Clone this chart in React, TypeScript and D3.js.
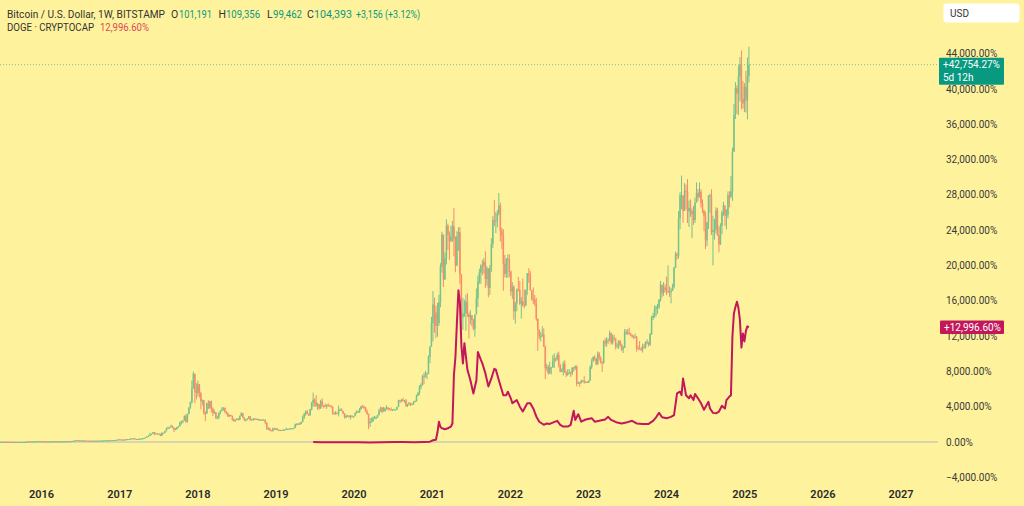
import React from "react";
import * as d3 from "d3";

// ---------- DATA ----------
// BTC weekly bars (week start from btcStart), values in $k: [close, high, low]
const btcStart = "2015-06-15";
const btcFirstOpen = 0.238;
const btcLastOpen = 101.191;

const btc2015 = [[0.2436,0.252,0.237],[0.249,0.251,0.240],[0.270,0.275,0.250],[0.310,0.310,0.263],[0.275,0.315,0.270],[0.290,0.292,0.273],[0.280,0.298,0.278],[0.265,0.285,0.258],[0.260,0.270,0.257],[0.230,0.262,0.200],[0.230,0.235,0.198],[0.240,0.245,0.225],[0.230,0.245,0.225],[0.230,0.237,0.225],[0.235,0.238,0.225],[0.240,0.243,0.233],[0.247,0.248,0.235],[0.265,0.267,0.244],[0.285,0.290,0.264],[0.325,0.335,0.283],[0.385,0.500,0.320],[0.330,0.390,0.300],[0.325,0.335,0.315],[0.360,0.370,0.320],[0.390,0.420,0.355],[0.435,0.465,0.390],[0.445,0.465,0.425],[0.420,0.460,0.420],[0.430,0.440,0.415]];
const btc2016 = [[0.450,0.460,0.425],[0.380,0.455,0.370],[0.400,0.420,0.365],[0.380,0.400,0.375],[0.375,0.380,0.365],[0.380,0.385,0.370],[0.410,0.420,0.380],[0.420,0.440,0.410],[0.430,0.440,0.410],[0.415,0.425,0.405],[0.410,0.420,0.405],[0.415,0.420,0.410],[0.415,0.425,0.410],[0.420,0.425,0.415],[0.425,0.430,0.420],[0.445,0.450,0.425],[0.460,0.470,0.440],[0.455,0.465,0.440],[0.460,0.465,0.450],[0.445,0.460,0.435],[0.530,0.535,0.440],[0.575,0.590,0.520],[0.680,0.690,0.570],[0.740,0.780,0.670],[0.660,0.770,0.550],[0.650,0.700,0.620],[0.660,0.680,0.600],[0.660,0.680,0.645],[0.660,0.680,0.640],[0.625,0.665,0.610],[0.590,0.625,0.480],[0.580,0.600,0.570],[0.580,0.590,0.565],[0.575,0.590,0.570],[0.605,0.610,0.570],[0.610,0.625,0.600],[0.600,0.615,0.600],[0.605,0.610,0.595],[0.610,0.615,0.600],[0.615,0.620,0.605],[0.640,0.645,0.615],[0.655,0.660,0.630],[0.700,0.720,0.650],[0.705,0.740,0.680],[0.705,0.740,0.690],[0.745,0.750,0.700],[0.730,0.750,0.725],[0.765,0.770,0.730],[0.770,0.780,0.755],[0.790,0.795,0.765],[0.890,0.900,0.790],[0.960,0.980,0.880]];
const btc2017 = [[0.910,1.130,0.890],[0.830,0.910,0.750],[0.920,0.925,0.820],[0.920,0.930,0.880],[1.020,1.040,0.915],[1.000,1.060,0.940],[1.050,1.060,0.990],[1.180,1.200,1.050],[1.250,1.290,1.170],[1.230,1.290,1.150],[0.960,1.260,0.950],[1.040,1.100,0.890],[1.080,1.100,0.960],[1.180,1.210,1.070],[1.180,1.210,1.160],[1.240,1.250,1.170],[1.350,1.360,1.230],[1.550,1.620,1.340],[1.750,1.850,1.540],[2.050,2.100,1.700],[2.200,2.800,1.950],[2.500,2.550,2.100],[2.950,3.000,2.450],[2.600,3.000,2.100],[2.600,2.800,2.450],[2.500,2.600,2.300],[2.500,2.650,2.400],[1.950,2.550,1.830],[2.750,2.950,1.900],[2.750,2.800,2.450],[3.250,3.300,2.700],[4.050,4.200,3.200],[4.150,4.500,3.950],[4.350,4.400,3.900],[4.700,5.000,4.300],[4.200,4.800,4.000],[3.700,4.250,2.950],[3.800,4.100,3.500],[4.350,4.400,3.650],[4.600,4.650,4.150],[5.650,5.850,4.550],[6.000,6.150,5.100],[6.150,6.200,5.400],[7.400,7.600,6.100],[5.900,7.850,5.500],[8.000,8.100,5.600],[9.800,9.800,7.900],[11.300,11.400,9.400],[15.000,17.200,10.800],[19.100,19.700,15.000],[14.000,19.000,11.000],[13.800,16.500,12.000]];
const btc2018 = [[16.200,17.200,12.800],[13.700,16.300,12.500],[11.500,14.100,9.300],[11.800,12.000,10.300],[8.200,11.700,7.800],[8.100,8.700,6.000],[11.000,11.100,8.000],[9.600,11.800,9.400],[11.500,11.600,9.400],[9.500,11.700,8.400],[8.200,9.800,7.400],[8.500,9.200,8.000],[6.900,8.500,6.600],[7.000,7.500,6.500],[8.300,8.400,6.600],[8.900,9.000,7.900],[9.200,9.800,8.700],[9.700,9.900,8.900],[8.700,9.700,8.300],[8.200,8.800,7.900],[7.300,8.400,7.200],[7.700,7.800,7.200],[7.500,7.800,7.300],[6.500,6.900,6.100],[6.100,6.800,5.800],[6.400,6.500,5.800],[6.700,6.800,6.300],[6.350,6.700,6.100],[7.400,7.600,6.300],[8.200,8.500,7.400],[7.000,8.200,6.900],[6.300,7.100,6.100],[6.400,6.500,5.900],[6.700,6.800,6.300],[7.300,7.400,6.600],[6.300,7.400,6.100],[6.500,6.600,6.200],[6.700,6.800,6.100],[6.600,6.800,6.400],[6.600,6.700,6.500],[6.300,6.700,6.200],[6.400,6.600,6.300],[6.400,6.500,6.300],[6.400,6.500,6.300],[6.400,6.550,6.350],[5.600,6.400,5.200],[4.000,5.600,3.600],[4.000,4.400,3.500],[3.500,4.200,3.400],[3.200,3.600,3.200],[3.900,4.200,3.200],[3.700,4.200,3.500],[4.000,4.100,3.700]];
const btc2019 = [[3.550,4.100,3.450],[3.550,3.700,3.500],[3.550,3.600,3.400],[3.450,3.550,3.350],[3.650,3.700,3.400],[3.650,3.700,3.550],[3.850,4.200,3.700],[3.850,3.900,3.700],[3.950,3.950,3.700],[4.000,4.050,3.850],[4.000,4.100,3.950],[4.100,4.150,3.950],[5.100,5.300,4.100],[5.100,5.450,4.900],[5.300,5.400,5.000],[5.200,5.650,5.000],[5.800,5.850,5.150],[7.000,7.500,5.700],[8.000,8.300,6.600],[8.700,8.900,7.500],[8.000,9.100,7.900],[7.600,8.100,7.450],[9.300,9.400,7.500],[11.000,11.300,8.950],[11.900,13.900,10.000],[11.300,12.300,10.000],[10.200,13.200,9.900],[10.700,11.100,9.100],[9.500,10.600,9.200],[11.500,11.900,9.400],[10.300,12.300,10.000],[10.200,10.500,9.500],[10.100,10.900,9.900],[10.500,10.600,9.400],[10.400,10.900,10.000],[10.300,10.500,10.000],[10.000,10.300,9.600],[8.200,10.000,7.800],[7.900,8.500,7.800],[8.300,8.800,7.800],[8.200,8.400,7.900],[9.200,10.300,7.300],[9.200,9.500,8.900],[8.800,9.500,8.700],[8.100,8.800,8.000],[7.100,8.200,6.700],[7.400,7.800,6.800],[7.500,7.700,7.200],[7.100,7.600,7.000],[7.500,7.700,6.500],[7.200,7.600,7.100],[7.350,7.400,6.900]];
const btc2020 = [[8.200,8.400,7.700],[8.700,9.000,8.100],[8.400,8.800,8.300],[9.350,9.600,8.300],[10.100,10.200,9.100],[9.900,10.500,9.700],[9.700,10.300,9.300],[8.550,9.900,8.500],[8.000,9.200,7.700],[5.400,8.100,3.800],[5.800,6.900,4.400],[5.900,6.950,5.700],[6.800,7.300,5.900],[6.900,7.450,6.700],[7.100,7.300,6.500],[7.700,7.800,6.900],[8.900,9.450,7.600],[8.700,10.000,8.600],[9.700,9.900,8.200],[8.700,9.900,8.600],[9.450,9.800,8.700],[9.700,10.400,9.200],[9.350,9.900,8.900],[9.300,9.600,9.150],[9.000,9.800,8.900],[9.100,9.300,8.900],[9.200,9.450,9.100],[9.200,9.250,9.050],[9.900,10.000,9.150],[11.800,11.900,9.900],[11.700,11.900,11.000],[11.900,12.100,11.200],[11.650,12.450,11.400],[11.700,11.800,11.100],[10.300,12.100,9.900],[10.700,10.800,9.900],[11.100,11.200,10.300],[10.700,10.900,10.200],[10.650,10.900,10.400],[11.300,11.500,10.500],[11.500,11.700,11.200],[13.000,13.300,11.400],[13.800,14.100,12.900],[15.500,15.900,13.300],[16.000,16.500,14.800],[18.400,18.800,15.800],[18.200,19.400,16.200],[19.000,19.900,18.000],[19.200,19.400,17.600],[23.800,24.200,19.000],[26.500,26.800,22.000],[33.000,34.800,27.300]];
const btc2021 = [[38.200,41.900,28.000],[36.000,40.100,30.400],[32.300,37.800,28.900],[33.100,38.600,29.300],[38.900,40.900,32.300],[48.600,49.600,37.400],[57.500,58.300,47.000],[45.100,57.500,43.000],[51.000,52.600,45.000],[59.900,61.700,49.300],[57.400,60.500,53.300],[55.800,58.400,50.500],[57.000,60.000,55.400],[59.800,61.300,55.500],[56.200,64.800,51.500],[49.000,57.000,47.100],[57.000,58.400,48.800],[58.200,59.500,53.000],[46.400,59.600,43.800],[34.600,46.600,30.000],[35.700,40.000,31.200],[35.800,39.500,34.800],[39.000,40.900,31.000],[35.500,41.300,34.800],[34.700,36.000,28.800],[35.300,36.600,32.700],[33.900,35.200,32.100],[31.500,34.200,31.100],[35.400,35.400,29.300],[39.900,42.600,36.400],[44.600,46.200,37.500],[47.000,48.100,43.900],[49.000,49.300,43.900],[48.900,50.500,46.300],[49.900,51.000,46.700],[45.200,52.900,42.800],[48.200,48.800,43.400],[42.800,47.000,40.200],[48.200,49.100,40.800],[54.900,56.500,47.200],[61.500,62.600,53.800],[61.300,67.000,59.800],[61.300,63.700,57.900],[63.300,64.300,59.500],[65.500,69.000,62.800],[58.600,66.300,55.600],[57.200,59.400,53.500],[49.400,59.000,42.000],[46.700,51.900,45.700],[50.800,51.000,45.600],[50.800,52.000,45.600],[47.300,52.100,45.700]];
const btc2022 = [[41.800,47.600,40.600],[43.100,44.400,39.700],[36.300,43.500,34.000],[38.500,38.900,32.900],[42.400,42.600,36.300],[42.200,45.800,41.800],[38.400,44.700,38.000],[39.100,40.300,34.300],[38.000,45.400,37.600],[37.800,42.400,37.200],[42.200,42.300,38.100],[46.800,46.900,40.900],[46.400,48.200,44.200],[42.200,47.500,42.000],[39.700,41.500,39.200],[39.500,42.900,38.300],[38.500,40.800,37.700],[34.300,40.000,33.700],[31.300,34.200,25.400],[29.400,31.300,28.600],[29.400,30.600,28.000],[29.900,32.200,29.300],[26.600,31.600,26.500],[20.600,26.900,17.600],[21.000,21.900,19.800],[19.300,21.500,18.800],[20.800,22.400,19.000],[20.800,21.000,18.900],[22.600,24.200,20.800],[23.300,24.700,20.700],[23.200,23.600,22.400],[24.300,24.900,22.700],[21.500,25.200,20.800],[19.550,21.800,19.600],[19.800,20.600,19.600],[21.800,22.500,18.600],[19.400,22.800,19.300],[18.800,19.900,18.200],[19.300,20.300,18.500],[19.400,20.400,19.000],[19.200,19.700,18.200],[20.800,20.800,18.700],[20.600,21.000,19.700],[21.100,21.400,20.100],[16.300,21.400,15.600],[16.600,17.000,16.300],[16.500,16.800,15.500],[17.100,17.400,16.400],[17.100,17.400,16.900],[16.800,18.400,16.300],[16.850,17.000,16.600],[16.550,16.950,16.500]];
const btc2023 = [[17.200,17.200,16.600],[20.900,21.400,17.200],[22.700,23.300,20.400],[23.700,23.900,22.300],[23.300,24.200,22.700],[21.800,23.400,21.400],[24.600,25.250,21.500],[23.500,25.100,22.700],[22.200,23.900,21.900],[22.100,22.600,19.600],[28.000,28.400,21.800],[27.500,28.900,26.600],[28.500,29.200,26.500],[28.300,28.800,27.300],[30.300,31.000,28.000],[27.600,30.500,27.100],[29.200,30.000,27.200],[28.900,29.800,28.100],[26.800,28.600,25.800],[26.900,27.500,26.100],[28.100,28.400,25.900],[27.100,28.400,26.500],[25.800,27.400,25.300],[26.300,26.800,24.800],[30.500,31.400,26.200],[30.600,31.300,29.800],[30.300,31.400,29.800],[30.200,31.800,29.900],[29.800,30.400,29.500],[29.300,29.900,29.000],[29.100,29.700,28.600],[29.300,30.200,29.000],[26.100,29.500,25.200],[26.000,26.800,25.800],[25.900,28.100,25.800],[25.850,26.400,25.400],[26.600,27.400,24.900],[26.500,27.400,26.000],[27.900,28.000,26.000],[27.900,28.600,27.200],[27.100,27.900,26.600],[30.000,30.300,26.800],[34.500,35.100,29.900],[35.000,35.900,33.900],[37.000,38.000,34.500],[37.400,37.900,34.900],[37.500,38.400,35.600],[39.500,39.700,37.000],[43.700,44.700,39.000],[41.400,43.500,40.200],[42.900,44.400,40.600],[42.300,43.800,41.500]];
const btc2024 = [[41.700,45.900,40.800],[41.700,49.000,41.500],[41.600,43.200,40.300],[42.000,42.800,38.500],[43.000,43.900,41.900],[48.300,48.600,42.600],[52.100,52.800,48.400],[51.700,52.500,50.600],[62.000,64.000,50.900],[68.300,69.200,59.000],[68.400,73.800,64.500],[64.000,68.100,60.800],[69.600,71.700,64.300],[69.400,71.300,64.500],[63.900,72.800,60.700],[64.900,66.900,59.600],[63.100,67.200,62.400],[64.000,64.700,56.500],[61.500,65.400,60.200],[66.300,67.700,60.700],[69.000,71.900,66.600],[67.700,70.100,66.700],[69.300,71.900,68.500],[66.200,70.000,65.000],[64.300,67.200,63.400],[62.700,64.000,58.400],[55.900,63.800,53.500],[60.800,61.000,54.300],[68.200,68.400,59.000],[68.300,68.800,63.500],[58.200,70.000,57.400],[58.700,62.700,49.000],[58.900,61.800,56.100],[64.200,65.000,57.800],[57.300,64.900,57.100],[54.800,59.800,52.600],[59.900,60.600,54.600],[63.600,64.100,57.600],[65.600,66.500,62.700],[62.800,64.700,59.900],[62.900,64.500,58.900],[68.400,69.400,62.000],[68.000,69.500,65.000],[69.400,73.600,67.500],[80.400,81.500,66.800],[90.500,93.500,80.300],[97.900,99.600,89.400],[96.400,98.700,90.800],[101.100,104.100,90.500],[104.500,106.500,94.200],[95.000,108.300,92.100],[93.700,99.900,92.300],[98.300,99.300,91.300]];
const btc2025 = [[94.500,102.700,91.200],[101.237,106.400,89.300],[104.393,109.356,99.462]];

// DOGE · CRYPTOCAP, % change from its first bar
const dogeDates = ["2019-06-24","2019-07-29","2019-09-23","2019-11-25","2020-01-20","2020-03-16","2020-05-11","2020-07-13","2020-08-17","2020-10-12","2020-11-23","2020-12-21","2021-01-04","2021-01-18","2021-01-25","2021-02-01","2021-02-08","2021-02-15","2021-02-22","2021-03-01","2021-03-15","2021-03-22","2021-03-29","2021-04-05","2021-04-12","2021-04-19","2021-04-26","2021-05-03","2021-05-10","2021-05-17","2021-05-24","2021-05-31","2021-06-07","2021-06-14","2021-06-28","2021-07-12","2021-07-26","2021-08-02","2021-08-16","2021-08-23","2021-09-06","2021-09-20","2021-10-04","2021-10-18","2021-10-25","2021-11-08","2021-11-29","2021-12-13","2021-12-20","2022-01-03","2022-01-10","2022-01-31","2022-02-14","2022-02-28","2022-03-21","2022-04-04","2022-04-18","2022-05-02","2022-05-16","2022-06-06","2022-06-20","2022-07-04","2022-07-18","2022-08-08","2022-08-22","2022-09-05","2022-09-26","2022-10-10","2022-10-24","2022-10-31","2022-11-14","2022-11-28","2022-12-19","2023-01-16","2023-01-30","2023-02-20","2023-03-20","2023-04-03","2023-04-17","2023-05-15","2023-06-05","2023-06-26","2023-07-24","2023-08-14","2023-09-11","2023-10-09","2023-10-30","2023-11-13","2023-11-27","2023-12-11","2024-01-01","2024-01-22","2024-02-05","2024-02-19","2024-03-04","2024-03-11","2024-03-18","2024-03-25","2024-04-01","2024-04-15","2024-04-22","2024-05-06","2024-05-13","2024-05-27","2024-06-10","2024-06-24","2024-07-15","2024-07-22","2024-08-05","2024-08-19","2024-09-02","2024-09-16","2024-09-30","2024-10-07","2024-10-21","2024-10-28","2024-11-04","2024-11-11","2024-11-18","2024-11-25","2024-12-02","2024-12-09","2024-12-16","2024-12-23","2024-12-30","2025-01-06","2025-01-13","2025-01-20"];
const dogeChange = [0,-15,-25,-35,-30,-50,-35,-5,5,-20,10,40,200,260,1100,2300,1700,1550,1500,1450,1550,1650,1750,2100,7600,9600,13500,17200,15800,10900,8900,11200,9700,8200,7000,5500,7000,10200,9300,8900,7800,6300,7200,8300,8200,7000,5300,5300,5700,4950,4400,4750,4000,3450,4400,4400,3800,2900,2300,1950,2100,2050,2200,2400,1950,1750,1750,1950,3550,2500,3150,2300,2550,2700,2300,2400,2550,2850,2500,2200,2100,2200,2400,2100,2050,2050,2400,2800,3300,2800,2700,2850,3050,5500,5700,5300,7200,6300,5300,4950,5300,4750,5450,4950,4400,3650,4550,3800,3300,3250,3450,4100,3800,4750,5150,5300,12000,14600,15300,15900,15200,13800,10700,12300,11400,12600,13100,12996.6];

const yTickValues = [-4000,0,4000,8000,12000,16000,20000,24000,28000,32000,36000,40000,44000];
const yearTicks = [2016,2017,2018,2019,2020,2021,2022,2023,2024,2025,2026,2027];

const btcTitle = "Bitcoin / U.S. Dollar, 1W, BITSTAMP";
const dogeTitle = "DOGE · CRYPTOCAP";
const btcLabel = "+42,754.27%";
const countdown = "5d 12h";
const dogeLabel = "+12,996.60%";
const dogeHeader = "12,996.60%";

// ---------- STYLE ----------
const BG = "#fff29c";
const UP = "#77c18d";
const DOWN = "#f78b6b";
const TEAL = "#089981";
const DOGE = "#c2185b";
const FONT = "Roboto, 'Open Sans', sans-serif";

export default function App() {
  const W = 1024, H = 506;
  const paneRight = 938;
  const x = d3.scaleUtc().domain([new Date(Date.UTC(2016,0,1)), new Date(Date.UTC(2027,0,1))]).range([41.5, 901]);
  const y = d3.scaleLinear().domain([0, 40000]).range([442, 89]);

  const start = d3.utcParse("%Y-%m-%d")(btcStart) as Date;
  const all = [...btc2015, ...btc2016, ...btc2017, ...btc2018, ...btc2019, ...btc2020, ...btc2021, ...btc2022, ...btc2023, ...btc2024, ...btc2025];
  const base = all[0][0];
  const pct = (v: number) => (v / base - 1) * 100;
  const bars = all.map((d, i) => {
    const o = i === 0 ? btcFirstOpen : (i === all.length - 1 ? btcLastOpen : all[i - 1][0]);
    return { date: d3.utcDay.offset(start, i * 7), o, c: d[0], h: d[1], l: d[2] };
  });
  const last = bars[bars.length - 1];
  const prevClose = bars[bars.length - 2].c;
  const fmtInt = d3.format(",.0f");
  const chg = (last.c - prevClose) * 1000;
  const chgPct = (last.c / prevClose - 1) * 100;

  const parse = d3.utcParse("%Y-%m-%d");
  const doge = dogeDates.map((s, i) => ({ date: parse(s) as Date, v: dogeChange[i] }));
  const line = d3.line<{ date: Date; v: number }>().x(d => x(d.date)).y(d => y(d.v));

  const fmtTick = (v: number) => d3.format(",.2f")(v) + "%";
  const btcY = y(pct(last.c));
  const dogeY = y(doge[doge.length - 1].v);

  const headerItems = [
    { t: "O", x: 171, c: "#333" },
    { t: fmtInt(last.o * 1000), x: 179, w: 33, c: TEAL },
    { t: "H", x: 218.5, c: "#333" },
    { t: fmtInt(last.h * 1000), x: 226, w: 34, c: TEAL },
    { t: "L", x: 267, c: "#333" },
    { t: fmtInt(last.l * 1000), x: 273, w: 29, c: TEAL },
    { t: "C", x: 307, c: "#333" },
    { t: fmtInt(last.c * 1000), x: 314, w: 38, c: TEAL },
    { t: `+${fmtInt(chg)} (+${chgPct.toFixed(2)}%)`, x: 356, w: 64, c: TEAL },
  ];

  return (
    <svg width={W} height={H} style={{ position: "absolute", left: 0, top: 0, display: "block" }} fontFamily={FONT}>
      <defs>
        <clipPath id="pane"><rect x={0} y={0} width={paneRight} height={H} /></clipPath>
      </defs>
      <rect x={0} y={0} width={W} height={H} fill={BG} />
      <g clipPath="url(#pane)">
        <line x1={0} x2={paneRight} y1={y(0)} y2={y(0)} stroke="#b4b9c2" strokeWidth={1} />
        <line x1={0} x2={paneRight} y1={btcY} y2={btcY} stroke={TEAL} strokeOpacity={0.55} strokeWidth={1} strokeDasharray="1 2" />
        {bars.map((b, i) => {
          const cx = x(b.date);
          const up = b.c >= b.o;
          const col = up ? UP : DOWN;
          const yo = y(pct(b.o)), yc = y(pct(b.c));
          const yh = y(pct(b.h)), yl = y(pct(b.l));
          const top = Math.min(yo, yc);
          const bh = Math.max(1, Math.abs(yo - yc));
          return (
            <g key={i}>
              <rect x={cx - 0.5} y={yh} width={1} height={Math.max(1, yl - yh)} fill={col} />
              <rect x={cx - 0.75} y={top} width={1.5} height={bh} fill={col} />
            </g>
          );
        })}
        <path d={line(doge) || ""} fill="none" stroke={DOGE} strokeWidth={2} strokeLinejoin="round" />
      </g>

      {yTickValues.map(v => (
        <text key={v} x={946} y={y(v)} dy="0.35em" fontSize={10} fill="#3a3a3a">{fmtTick(v)}</text>
      ))}
      {yearTicks.map(yr => (
        <text key={yr} x={x(new Date(Date.UTC(yr, 0, 1)))} y={494} dy="0.35em" textAnchor="middle" fontSize={11} fontWeight={600} fill="#2a2a2a">{yr}</text>
      ))}

      <rect x={939} y={btcY - 7} width={65} height={27} fill={TEAL} rx={1} />
      <text x={943} y={btcY} dy="0.35em" fontSize={10} fill="#fff">{btcLabel}</text>
      <text x={943} y={btcY + 13} dy="0.35em" fontSize={10} fill="#fff">{countdown}</text>

      <rect x={940} y={dogeY - 6.7} width={64} height={13.5} fill={DOGE} rx={1} />
      <text x={944} y={dogeY} dy="0.35em" fontSize={10} fill="#fff">{dogeLabel}</text>

      <rect x={943.5} y={3.5} width={76} height={19} rx={3} fill="#fff" />
      <text x={950} y={13} dy="0.35em" fontSize={10} fill="#333">USD</text>

      <text x={7} y={14} dy="0.35em" fontSize={10.5} fill="#333" textLength={158} lengthAdjust="spacingAndGlyphs">{btcTitle}</text>
      {headerItems.map((it, i) => (
        <text key={i} x={it.x} y={14} dy="0.35em" fontSize={10.5} fill={it.c}
          {...(it.w ? { textLength: it.w, lengthAdjust: "spacingAndGlyphs" } : {})}>{it.t}</text>
      ))}
      <text x={7} y={27.5} dy="0.35em" fontSize={10.5} fill="#333" textLength={87} lengthAdjust="spacingAndGlyphs">{dogeTitle}</text>
      <text x={100} y={27.5} dy="0.35em" fontSize={10.5} fill="#e0475b" textLength={49} lengthAdjust="spacingAndGlyphs">{dogeHeader}</text>
    </svg>
  );
}
